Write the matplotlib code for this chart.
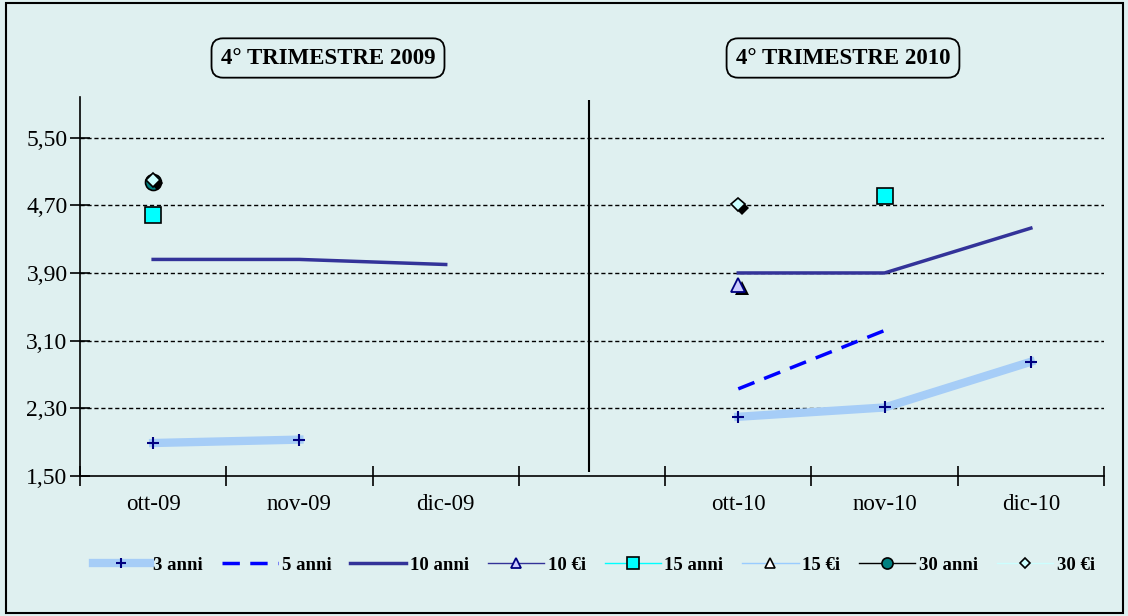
import numpy as np
import matplotlib
matplotlib.use('Agg')
import matplotlib.pyplot as plt
import matplotlib.patheffects as pe
from matplotlib.lines import Line2D
from matplotlib.patches import Rectangle

plt.rcParams['font.family'] = ['Liberation Serif', 'DejaVu Serif']

# categorie (la quarta è vuota: separa i due trimestri)
mesi = ['ott-09', 'nov-09', 'dic-09', '', 'ott-10', 'nov-10', 'dic-10']
titoli = ['4° TRIMESTRE 2009', '4° TRIMESTRE 2010']

nan = np.nan
anni_3 = [1.89, 1.93, nan, nan, 2.20, 2.31, 2.85]
anni_5 = [nan, nan, nan, nan, 2.53, 3.22, nan]
anni_10 = [4.06, 4.06, 4.00, nan, 3.90, 3.90, 4.43]
ei_10 = [nan, nan, nan, nan, 3.76, nan, nan]
anni_15 = [4.59, nan, nan, nan, nan, 4.81, nan]
ei_15 = [nan, nan, nan, nan, nan, nan, nan]
anni_30 = [4.97, nan, nan, nan, nan, nan, nan]
ei_30 = [5.00, nan, nan, nan, 4.71, nan, nan]

yticks = [1.50, 2.30, 3.10, 3.90, 4.70, 5.50]

bg = '#dff0f0'
x = np.arange(len(mesi))

fig = plt.figure(figsize=(11.28, 6.16), dpi=100, facecolor=bg)
ax = fig.add_axes([80 / 1128, 1 - 476 / 616, 1024 / 1128, 379 / 616])
ax.set_facecolor(bg)

# griglia tratteggiata
for v in yticks[1:]:
    ax.axhline(v, color='black', lw=1, ls=(0, (3, 2)), zorder=1)

# separatore tra i due trimestri
sep = mesi.index('')
ax.vlines(sep - 0.02, 1.55, 5.95, color='black', lw=1.5, zorder=2)

ombra = [pe.SimplePatchShadow(offset=(2.5, -2.5), shadow_rgbFace='black', alpha=1), pe.Normal()]

stili = [
    ('3 anni', anni_3, dict(color='#a6cdf7', lw=6, marker='+', ms=9, mec='#000080', mew=1.5)),
    ('5 anni', anni_5, dict(color='#0000ff', lw=2.5, ls=(0, (5, 3)))),
    ('10 anni', anni_10, dict(color='#333399', lw=2.5)),
    ('10 €i', ei_10, dict(color='#333399', lw=1, marker='^', ms=10, mfc='#ccccff', mec='#000080', mew=1.3)),
    ('15 anni', anni_15, dict(color='#00ffff', lw=1, marker='s', ms=12, mfc='#00ffff', mec='black', mew=1.2)),
    ('15 €i', ei_15, dict(color='#99ccff', lw=1, marker='^', ms=10, mfc='white', mec='black', mew=1.2)),
    ('30 anni', anni_30, dict(color='black', lw=1, marker='o', ms=11.5, mfc='#008080', mec='black', mew=1.2)),
    ('30 €i', ei_30, dict(color='#ccffff', lw=1, marker='D', ms=7, mfc='#ccffff', mec='black', mew=1.2)),
]

handles = []
for nome, vals, st in stili:
    l, = ax.plot(x, vals, zorder=3, **st)
    if nome in ('10 €i', '30 €i'):
        l.set_path_effects(ombra)
    st_leg = dict(st)
    if 'ms' in st_leg:
        st_leg['ms'] = min(st_leg['ms'] * 0.75, 8)
    handles.append(Line2D([], [], label=nome, **st_leg))

ax.set_xlim(-0.5, len(mesi) - 0.5)
ax.set_ylim(1.50, 5.98)

ax.set_xticks(np.arange(len(mesi) + 1) - 0.5)
ax.set_xticklabels([])
ax.set_xticks(x, minor=True)
ax.set_xticklabels(mesi, minor=True, fontsize=16.5)
ax.tick_params(axis='x', which='major', direction='inout', length=14, width=1.2)
ax.tick_params(axis='x', which='minor', length=0, pad=13)

ax.set_yticks(yticks)
ax.set_yticklabels([f'{v:.2f}'.replace('.', ',') for v in yticks], fontsize=17)
ax.tick_params(axis='y', direction='inout', length=14, width=1.2, pad=2)

for s in ('top', 'right'):
    ax.spines[s].set_visible(False)
for s in ('left', 'bottom'):
    ax.spines[s].set_linewidth(1.2)

# titoli in riquadro arrotondato
for t, xp in zip(titoli, [328 / 1128, 843 / 1128]):
    fig.text(xp, 1 - 58 / 616, t, ha='center', va='center', fontsize=16.5, fontweight='bold',
             bbox=dict(boxstyle='round,pad=0.4,rounding_size=0.5', fc=bg, ec='black', lw=1.3))

fig.legend(handles=handles, loc='center', bbox_to_anchor=(594 / 1128, 1 - 565 / 616), ncol=8,
           frameon=False, prop=dict(size=13.5, weight='bold'), handlelength=3.0,
           handletextpad=0.2, columnspacing=1.0)

# bordo del grafico
fig.patches.append(Rectangle((6 / 1128, 3 / 616), 1117 / 1128, 610 / 616, transform=fig.transFigure,
                             fill=False, ec='black', lw=1.5))

plt.savefig('out.png', dpi=100, facecolor=bg)
